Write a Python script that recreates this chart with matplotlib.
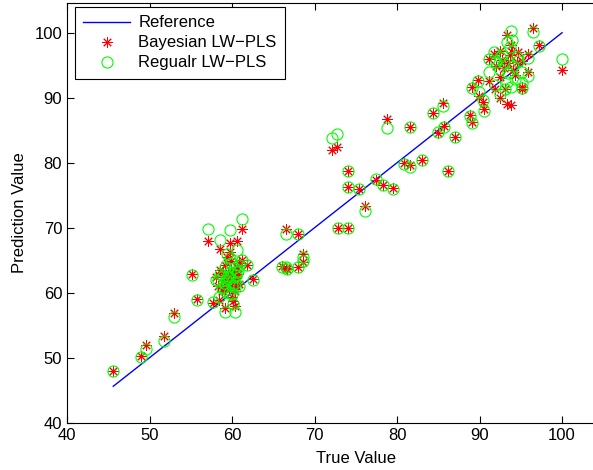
import matplotlib
matplotlib.use('Agg')
import matplotlib.pyplot as plt

plt.rcParams['font.family'] = ['Liberation Sans', 'DejaVu Sans']
plt.rcParams['font.size'] = 12

#%% Data: true value, Bayesian LW-PLS, regular LW-PLS
true_val = [45.6, 49.0, 49.6, 51.7, 53.0, 55.1, 55.7, 57.1, 57.7, 58.5,
            59.8, 61.2, 60.6, 59.2, 60.3, 61.2, 61.8, 62.5, 60.9,
            58.0, 58.3, 58.6, 58.8, 59.0, 59.1, 59.3, 59.5, 59.6, 59.8,
            59.9, 60.0, 60.2, 60.3, 60.5, 60.6, 60.8, 59.4, 58.4, 60.0,
            59.7, 60.1, 58.9, 59.6, 60.4, 59.2, 60.7,
            66.0, 66.7, 66.5, 68.0, 68.6, 68.6, 66.6, 68.0, 72.1, 72.7,
            72.8, 74.1, 74.1, 74.1, 75.4, 76.1, 77.5, 78.3, 79.55, 78.8,
            81.6, 80.9, 81.6, 83.0, 84.3, 85.0, 85.7, 85.6, 86.2, 87.0,
            88.9, 89.05, 89.05, 89.8, 89.9, 90.4, 90.5, 91.1, 91.1, 91.7,
            91.9, 92.5, 92.5, 92.5, 93.1, 93.3, 93.8, 93.3, 93.8, 93.9,
            93.7, 94.5, 94.3, 95.1, 95.2, 95.1, 95.9, 95.9, 94.7, 93.0,
            92.7, 94.0, 96.5, 97.2, 100.0, 92.0, 93.5]
bayes_pred = [48.0, 50.3, 52.0, 53.4, 56.9, 62.9, 59.0, 68.0, 58.4, 66.7,
              67.7, 69.8, 67.9, 57.6, 58.0, 65.0, 64.3, 62.1, 64.5,
              62.4, 61.0, 63.5, 60.2, 62.0, 64.3, 61.2, 63.0, 60.5, 62.6,
              64.9, 61.6, 63.3, 60.3, 62.2, 64.0, 61.4, 65.5, 58.9, 59.3,
              66.3, 58.8, 63.0, 61.9, 61.1, 60.7, 62.9,
              64.15, 63.7, 63.8, 63.9, 65.9, 64.8, 69.8, 69.0, 81.9, 82.4,
              70.0, 70.0, 78.8, 76.2, 76.0, 73.3, 77.4, 76.6, 76.1, 86.7,
              85.5, 80.0, 79.6, 80.4, 87.6, 84.6, 85.7, 89.2, 78.8, 84.0,
              87.3, 86.2, 91.6, 92.7, 90.3, 89.3, 88.2, 92.5, 95.9, 96.8,
              91.4, 97.2, 93.2, 89.9, 91.4, 89.1, 88.9, 99.6, 98.1, 97.0,
              96.6, 95.5, 93.5, 91.7, 91.4, 95.7, 93.9, 96.8, 97.0, 94.6,
              95.8, 94.3, 100.7, 98.1, 94.2, 94.9, 95.3]
regular_pred = [47.9, 50.1, 51.3, 52.6, 56.2, 62.7, 58.9, 69.8, 58.5, 68.1,
                69.6, 71.3, 66.5, 57.1, 57.1, 65.0, 64.3, 62.0, 64.2,
                62.0, 61.8, 62.9, 60.8, 61.5, 63.9, 61.9, 62.5, 60.0, 63.2,
                64.5, 61.0, 63.8, 60.9, 62.7, 63.2, 61.0, 65.9, 59.4, 59.8,
                65.4, 58.2, 62.6, 62.3, 61.5, 60.3, 63.4,
                64.0, 63.6, 63.9, 64.0, 65.5, 64.9, 69.0, 69.0, 83.8, 84.4,
                70.0, 70.0, 78.7, 76.2, 75.9, 72.6, 77.5, 76.5, 75.9, 85.3,
                85.5, 79.8, 79.4, 80.4, 87.6, 84.8, 85.5, 88.7, 78.8, 83.9,
                87.2, 86.1, 91.5, 92.6, 90.9, 89.6, 88.0, 94.0, 96.0, 97.0,
                92.0, 96.3, 94.4, 90.6, 91.3, 92.4, 91.7, 98.6, 100.2, 98.9,
                97.8, 96.2, 92.9, 91.5, 92.2, 94.0, 93.3, 96.1, 95.6, 95.3,
                96.5, 94.9, 100.1, 98.0, 96.0, 95.5, 93.8]

ref_line = [min(true_val), max(true_val)]

#%% Plot
fig = plt.figure(figsize=(5.93, 4.70), dpi=100)
ax = fig.add_axes([0.113, 0.1006, 0.974, 0.8934])

ax.plot(ref_line, ref_line, '-', color='b', lw=1, label='Reference')
ax.plot(true_val, bayes_pred, linestyle='none', marker=(8, 2, 0), ms=7.5,
        mec='r', mew=0.7, color='r', label='Bayesian LW\u2212PLS')
ax.plot(true_val, regular_pred, linestyle='none', marker='o', ms=8,
        mfc='none', mec=(0, 1, 0), mew=0.8, label='Regualr LW\u2212PLS')

ax.set_xlim(40, 110)
ax.set_ylim(40, 104.6)
ax.set_xticks(range(40, 101, 10))
ax.set_yticks(range(40, 101, 10))
ax.tick_params(direction='in', top=True, right=True, length=5, width=0.8)
for s in ax.spines.values():
    s.set_linewidth(0.8)

ax.set_xlabel('True Value', labelpad=6)
ax.set_ylabel('Prediction Value', labelpad=5)

leg = ax.legend(loc='upper left', bbox_to_anchor=(0.0139, 0.99),
                borderaxespad=0, fancybox=False, edgecolor='k',
                framealpha=1, handlelength=2.8, labelspacing=0.3,
                borderpad=0.5, handletextpad=0.5)
leg.get_frame().set_linewidth(0.8)

fig.savefig('out.png', dpi=100)
